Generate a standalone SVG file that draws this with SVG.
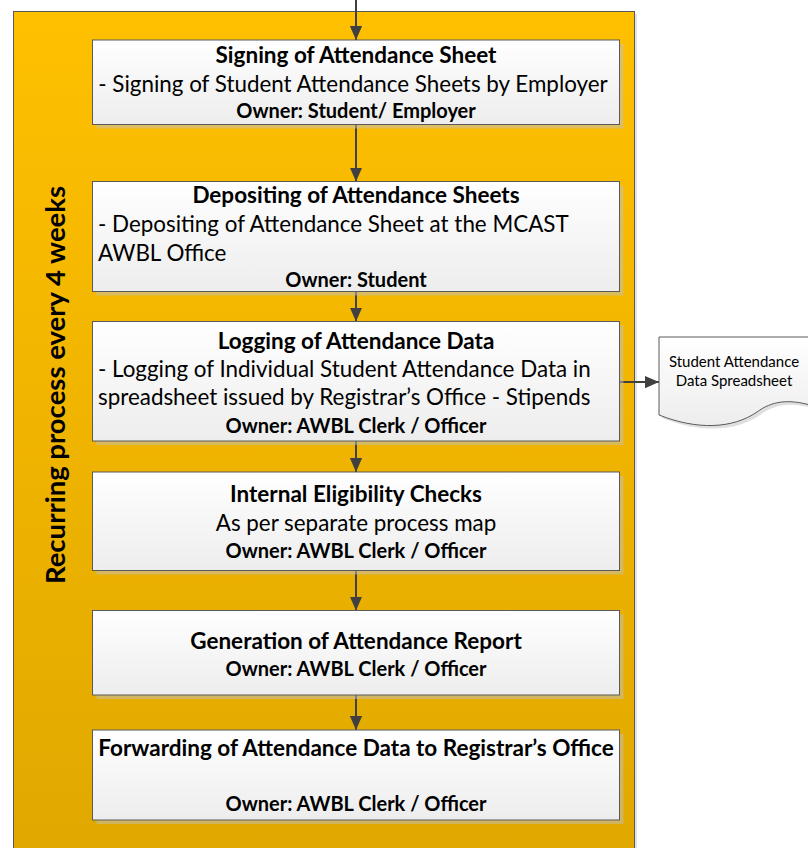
<svg xmlns="http://www.w3.org/2000/svg" width="808" height="848" viewBox="0 0 808 848">
<defs>
<linearGradient id="gOrange" x1="0" y1="0" x2="0" y2="1">
<stop offset="0" stop-color="#FFC000"/>
<stop offset="1" stop-color="#E0A800"/>
</linearGradient>
<linearGradient id="gBox" x1="0" y1="0" x2="0" y2="1">
<stop offset="0" stop-color="#FFFFFF"/>
<stop offset="1" stop-color="#EDEDED"/>
</linearGradient>
<marker id="ah" markerWidth="14" markerHeight="16" refX="16" refY="7" orient="auto" markerUnits="userSpaceOnUse" viewBox="0 0 16 14">
<path d="M0,0 L16,7 L0,14 Z" fill="#404040"/>
</marker>
</defs>
<style>
.box{fill:url(#gBox);stroke:#5A5A5A;stroke-width:1}
.shadow{fill:#BFBFBF;opacity:0.5}
.t{font-family:Lato,"Open Sans",sans-serif;fill:#000}
.ti{font-size:22.5px;font-weight:bold;text-anchor:middle}
.bd{font-size:22.4px}
.bc{font-size:22.4px;text-anchor:middle}
.ow{font-size:20px;font-weight:bold;text-anchor:middle}
.conn{stroke:#404040;stroke-width:2;fill:none}
</style>
<g id="container">
<rect x="16" y="14" width="621" height="850" fill="#D0D0D0" opacity="0.6"/>
<rect x="13.5" y="11.5" width="621" height="850" fill="url(#gOrange)" stroke="#595959" stroke-width="1"/>
<text class="t" transform="translate(65,385) rotate(-90)" font-size="27.5" font-weight="bold" text-anchor="middle">Recurring process every 4 weeks</text>
</g>
<g id="connectors">
<line class="conn" x1="356" y1="0" x2="356" y2="40" marker-end="url(#ah)"/>
<line class="conn" x1="356" y1="124.5" x2="356" y2="181.5" marker-end="url(#ah)"/>
<line class="conn" x1="356" y1="291.5" x2="356" y2="321.5" marker-end="url(#ah)"/>
<line class="conn" x1="356" y1="441" x2="356" y2="472" marker-end="url(#ah)"/>
<line class="conn" x1="356" y1="570.5" x2="356" y2="610.5" marker-end="url(#ah)"/>
<line class="conn" x1="356" y1="695" x2="356" y2="730" marker-end="url(#ah)"/>
<line class="conn" x1="619.5" y1="382" x2="659" y2="382" marker-end="url(#ah)"/>
</g>
<g id="n1">
<rect class="shadow" x="96.5" y="44" width="527" height="84.5"/>
<rect class="box" x="92.5" y="40" width="527" height="84.5"/>
<text class="t ti" x="356" y="63">Signing of Attendance Sheet</text>
<text class="t bc" x="353" y="92">- Signing of Student Attendance Sheets by Employer</text>
<text class="t ow" x="356" y="118">Owner: Student/ Employer</text>
</g>
<g id="n2">
<rect class="shadow" x="96.5" y="185.5" width="527" height="110"/>
<rect class="box" x="92.5" y="181.5" width="527" height="110"/>
<text class="t ti" x="356" y="203">Depositing of Attendance Sheets</text>
<text class="t bd" x="98" y="232">- Depositing of Attendance Sheet at the MCAST</text>
<text class="t bd" x="98" y="261">AWBL Office</text>
<text class="t ow" x="356" y="287">Owner: Student</text>
</g>
<g id="n3">
<rect class="shadow" x="96.5" y="325.5" width="527" height="119.5"/>
<rect class="box" x="92.5" y="321.5" width="527" height="119.5"/>
<text class="t ti" x="356" y="349">Logging of Attendance Data</text>
<text class="t bd" x="98" y="377">- Logging of Individual Student Attendance Data in</text>
<text class="t bd" x="98" y="405">spreadsheet issued by Registrar’s Office - Stipends</text>
<text class="t ow" x="356" y="433">Owner: AWBL Clerk / Officer</text>
</g>
<g id="n4">
<rect class="shadow" x="96.5" y="476" width="527" height="98.5"/>
<rect class="box" x="92.5" y="472" width="527" height="98.5"/>
<text class="t ti" x="356" y="502">Internal Eligibility Checks</text>
<text class="t bc" x="356" y="531">As per separate process map</text>
<text class="t ow" x="356" y="558">Owner: AWBL Clerk / Officer</text>
</g>
<g id="n5">
<rect class="shadow" x="96.5" y="614.5" width="527" height="84.5"/>
<rect class="box" x="92.5" y="610.5" width="527" height="84.5"/>
<text class="t ti" x="356" y="649">Generation of Attendance Report</text>
<text class="t ow" x="356" y="676">Owner: AWBL Clerk / Officer</text>
</g>
<g id="n6">
<rect class="shadow" x="96.5" y="734" width="527" height="90"/>
<rect class="box" x="92.5" y="730" width="527" height="90"/>
<text class="t ti" x="356" y="756">Forwarding of Attendance Data to Registrar’s Office</text>
<text class="t ow" x="356" y="811">Owner: AWBL Clerk / Officer</text>
</g>
<g id="doc">
<path d="M662,340 L812,340 L812,408 C790,402 775,404 760,415 C735,432 700,433 662,418 Z" fill="#BFBFBF" opacity="0.5"/>
<path d="M659,337 L810,337 L810,405 C788,399 772,401 757,412 C732,429 697,430 659,415 Z" fill="url(#gBox)" stroke="#5A5A5A" stroke-width="1"/>
<text class="t" x="734" y="367" font-size="15" text-anchor="middle">Student Attendance</text>
<text class="t" x="734" y="386" font-size="15" text-anchor="middle">Data Spreadsheet</text>
</g>
</svg>
